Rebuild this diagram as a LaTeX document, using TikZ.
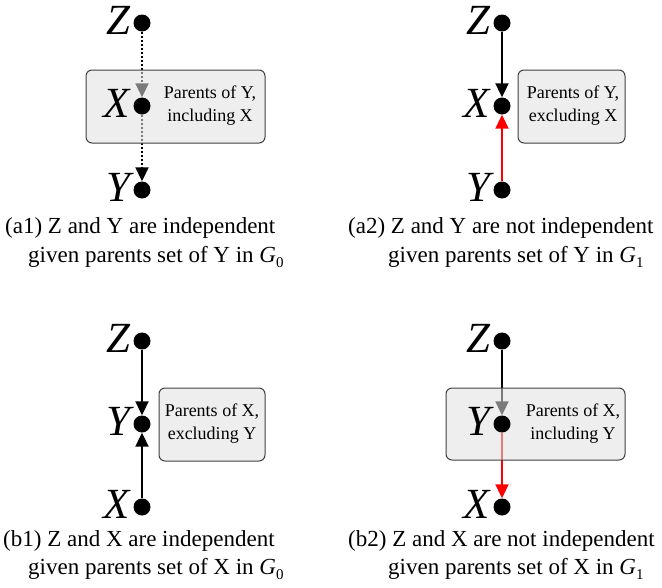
\documentclass[tikz,border=0pt]{standalone}
\usepackage{fontspec}
\setmainfont{Liberation Serif}
\usetikzlibrary{arrows.meta}
\pgfdeclarelayer{lines}
\pgfdeclarelayer{boxes}
\pgfsetlayers{lines,boxes,main}
\begin{document}
\begin{tikzpicture}[x=1pt,y=-1pt,
 dot/.style={circle,fill=black,inner sep=0pt,minimum size=17pt},
 var/.style={font=\fontsize{43}{43}\selectfont\itshape,inner sep=0pt,anchor=east,xshift=-3pt,yshift=3pt},
 arr/.style={line width=2pt,-{Triangle[length=14pt,width=13pt]}},
 dotline/.style={dash pattern=on 2pt off 2pt},
 pbox/.style={draw=black!75,line width=1pt,rounded corners=6pt,fill=black!12,fill opacity=0.55,draw opacity=1,text opacity=1,inner sep=0pt},
 ptext/.style={font=\fontsize{18}{23}\selectfont,align=center,inner sep=0pt},
 captext/.style={font=\fontsize{23}{28}\selectfont,anchor=base west,inner sep=0pt}]
\useasboundingbox (0,0) rectangle (662,587);
\newcommand{\gsub}[1]{\textit{G}\raisebox{-0.25em}{\fontsize{15}{15}\selectfont #1}}

% ---------- (a1) ----------
\node[dot] (a1z) at (142,23) {};
\node[dot] (a1x) at (142,106) {};
\node[dot] (a1y) at (142,190) {};
\node[var] (a1zl) at (a1z.west) {Z};
\node[var] (a1xl) at (a1x.west) {X};
\node[var] (a1yl) at (a1y.west) {Y};
\begin{pgfonlayer}{lines}
\draw[arr,dotline] (a1z) -- (a1x);
\draw[arr,dotline] (a1x) -- (a1y);
\end{pgfonlayer}
\begin{pgfonlayer}{boxes}
\node[pbox,minimum width=179pt,minimum height=73pt] (a1box) at (175.5,106.5) {};
\end{pgfonlayer}
\node[ptext] (a1t) at (210,106) {Parents of Y,\\including X};
\node[captext] (a1c1) at (5,233) {(a1) Z and Y are independent};
\node[captext] (a1c2) at (28,262) {given parents set of Y in \gsub{0}};

% ---------- (a2) ----------
\node[dot] (a2z) at (502,23) {};
\node[dot] (a2x) at (502,106) {};
\node[dot] (a2y) at (502,190) {};
\node[var] (a2zl) at (a2z.west) {Z};
\node[var] (a2xl) at (a2x.west) {X};
\node[var] (a2yl) at (a2y.west) {Y};
\begin{pgfonlayer}{lines}
\draw[arr] (a2z) -- (a2x);
\draw[arr,red] (a2y) -- (a2x);
\end{pgfonlayer}
\begin{pgfonlayer}{boxes}
\node[pbox,minimum width=107pt,minimum height=73pt] (a2box) at (571.5,106.5) {};
\end{pgfonlayer}
\node[ptext] (a2t) at (573,106) {Parents of Y,\\excluding X};
\node[captext] (a2c1) at (348,233) {(a2) Z and Y are not independent};
\node[captext] (a2c2) at (388,262) {given parents set of Y in \gsub{1}};

% ---------- (b1) ----------
\node[dot] (b1z) at (142,341) {};
\node[dot] (b1y) at (142,424) {};
\node[dot] (b1x) at (142,507) {};
\node[var] (b1zl) at (b1z.west) {Z};
\node[var] (b1yl) at (b1y.west) {Y};
\node[var] (b1xl) at (b1x.west) {X};
\begin{pgfonlayer}{lines}
\draw[arr] (b1z) -- (b1y);
\draw[arr] (b1x) -- (b1y);
\end{pgfonlayer}
\begin{pgfonlayer}{boxes}
\node[pbox,minimum width=106pt,minimum height=73pt] (b1box) at (212,424.5) {};
\end{pgfonlayer}
\node[ptext] (b1t) at (212,424) {Parents of X,\\excluding Y};
\node[captext] (b1c1) at (3,546) {(b1) Z and X are independent};
\node[captext] (b1c2) at (28,574) {given parents set of X in \gsub{0}};

% ---------- (b2) ----------
\node[dot] (b2z) at (502,341) {};
\node[dot] (b2y) at (502,424) {};
\node[dot] (b2x) at (502,507) {};
\node[var] (b2zl) at (b2z.west) {Z};
\node[var] (b2yl) at (b2y.west) {Y};
\node[var] (b2xl) at (b2x.west) {X};
\begin{pgfonlayer}{lines}
\draw[arr] (b2z) -- (b2y);
\draw[arr,red] (b2y) -- (b2x);
\end{pgfonlayer}
\begin{pgfonlayer}{boxes}
\node[pbox,minimum width=179pt,minimum height=72pt] (b2box) at (535.5,424) {};
\end{pgfonlayer}
\node[ptext] (b2t) at (573,424) {Parents of X,\\including Y};
\node[captext] (b2c1) at (348,546) {(b2) Z and X are not independent};
\node[captext] (b2c2) at (388,574) {given parents set of X in \gsub{1}};
\end{tikzpicture}
\end{document}
